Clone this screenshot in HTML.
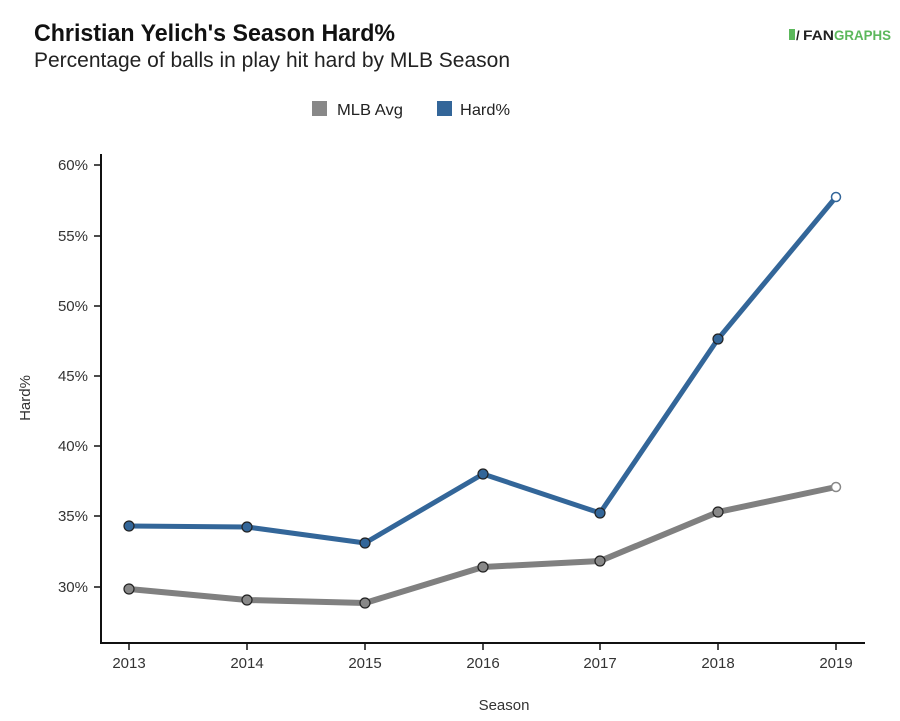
<!DOCTYPE html>
<html><head><meta charset="utf-8"><style>
body{margin:0;background:#fff;}
svg{display:block;font-family:"Liberation Sans",sans-serif;}
</style></head><body>
<svg width="900" height="721" viewBox="0 0 900 721" xmlns="http://www.w3.org/2000/svg">
<rect width="900" height="721" fill="#fff"/>
<text x="34" y="41" font-size="24" font-weight="bold" fill="#111" textLength="361" lengthAdjust="spacingAndGlyphs">Christian Yelich's Season Hard%</text>
<text x="34" y="67" font-size="21" fill="#222" textLength="476" lengthAdjust="spacingAndGlyphs">Percentage of balls in play hit hard by MLB Season</text>
<rect x="789" y="29" width="6" height="11" fill="#5cb85c"/>
<text x="796" y="40" font-size="13" font-weight="bold" fill="#222">/</text>
<text x="803" y="40" font-size="14" font-weight="bold" fill="#222" textLength="31" lengthAdjust="spacingAndGlyphs">FAN</text>
<text x="834" y="40" font-size="14" font-weight="bold" fill="#5cb85c" textLength="57" lengthAdjust="spacingAndGlyphs">GRAPHS</text>
<rect x="312" y="101" width="15" height="15" fill="#888"/>
<text x="337" y="115" font-size="16" fill="#222" textLength="66" lengthAdjust="spacingAndGlyphs">MLB Avg</text>
<rect x="437" y="101" width="15" height="15" fill="#336699"/>
<text x="460" y="115" font-size="16" fill="#222" textLength="50" lengthAdjust="spacingAndGlyphs">Hard%</text>
<g stroke="#111" stroke-width="2" fill="none">
<line x1="101" y1="154" x2="101" y2="643"/>
<line x1="100" y1="643" x2="865" y2="643"/>
</g>
<g stroke="#111" stroke-width="1.5">
<line x1="94" y1="165" x2="101" y2="165"/><line x1="94" y1="236" x2="101" y2="236"/>
<line x1="94" y1="306" x2="101" y2="306"/><line x1="94" y1="376" x2="101" y2="376"/>
<line x1="94" y1="446" x2="101" y2="446"/><line x1="94" y1="516" x2="101" y2="516"/>
<line x1="94" y1="587" x2="101" y2="587"/>
<line x1="129" y1="643" x2="129" y2="650"/><line x1="247" y1="643" x2="247" y2="650"/>
<line x1="365" y1="643" x2="365" y2="650"/><line x1="483" y1="643" x2="483" y2="650"/>
<line x1="600" y1="643" x2="600" y2="650"/><line x1="718" y1="643" x2="718" y2="650"/>
<line x1="836" y1="643" x2="836" y2="650"/>
</g>
<g font-size="15" fill="#333" text-anchor="end">
<text x="88" y="170">60%</text><text x="88" y="241">55%</text><text x="88" y="311">50%</text>
<text x="88" y="381">45%</text><text x="88" y="451">40%</text><text x="88" y="521">35%</text>
<text x="88" y="592">30%</text>
</g>
<g font-size="15" fill="#333" text-anchor="middle">
<text x="129" y="668">2013</text><text x="247" y="668">2014</text><text x="365" y="668">2015</text>
<text x="483" y="668">2016</text><text x="600" y="668">2017</text><text x="718" y="668">2018</text>
<text x="836" y="668">2019</text>
<text x="504" y="710">Season</text>
</g>
<text transform="translate(30,398) rotate(-90)" font-size="15" fill="#333" text-anchor="middle">Hard%</text>
<polyline points="129,589 247,600 365,603 483,567 600,561 718,512 836,487" fill="none" stroke="#808080" stroke-width="6" stroke-linejoin="round"/>
<polyline points="129,526 247,527 365,543 483,474 600,513 718,339 836,197" fill="none" stroke="#336699" stroke-width="5" stroke-linejoin="round"/>
<g stroke="#222" stroke-width="1.2" fill="#888">
<circle cx="129" cy="589" r="5"/><circle cx="247" cy="600" r="5"/><circle cx="365" cy="603" r="5"/>
<circle cx="483" cy="567" r="5"/><circle cx="600" cy="561" r="5"/><circle cx="718" cy="512" r="5"/>
</g>
<circle cx="836" cy="487" r="4.5" fill="#fff" stroke="#888" stroke-width="1.5"/>
<g stroke="#222" stroke-width="1.2" fill="#336699">
<circle cx="129" cy="526" r="5"/><circle cx="247" cy="527" r="5"/><circle cx="365" cy="543" r="5"/>
<circle cx="483" cy="474" r="5"/><circle cx="600" cy="513" r="5"/><circle cx="718" cy="339" r="5"/>
</g>
<circle cx="836" cy="197" r="4.5" fill="#fff" stroke="#336699" stroke-width="1.5"/>
</svg>
</body></html>
